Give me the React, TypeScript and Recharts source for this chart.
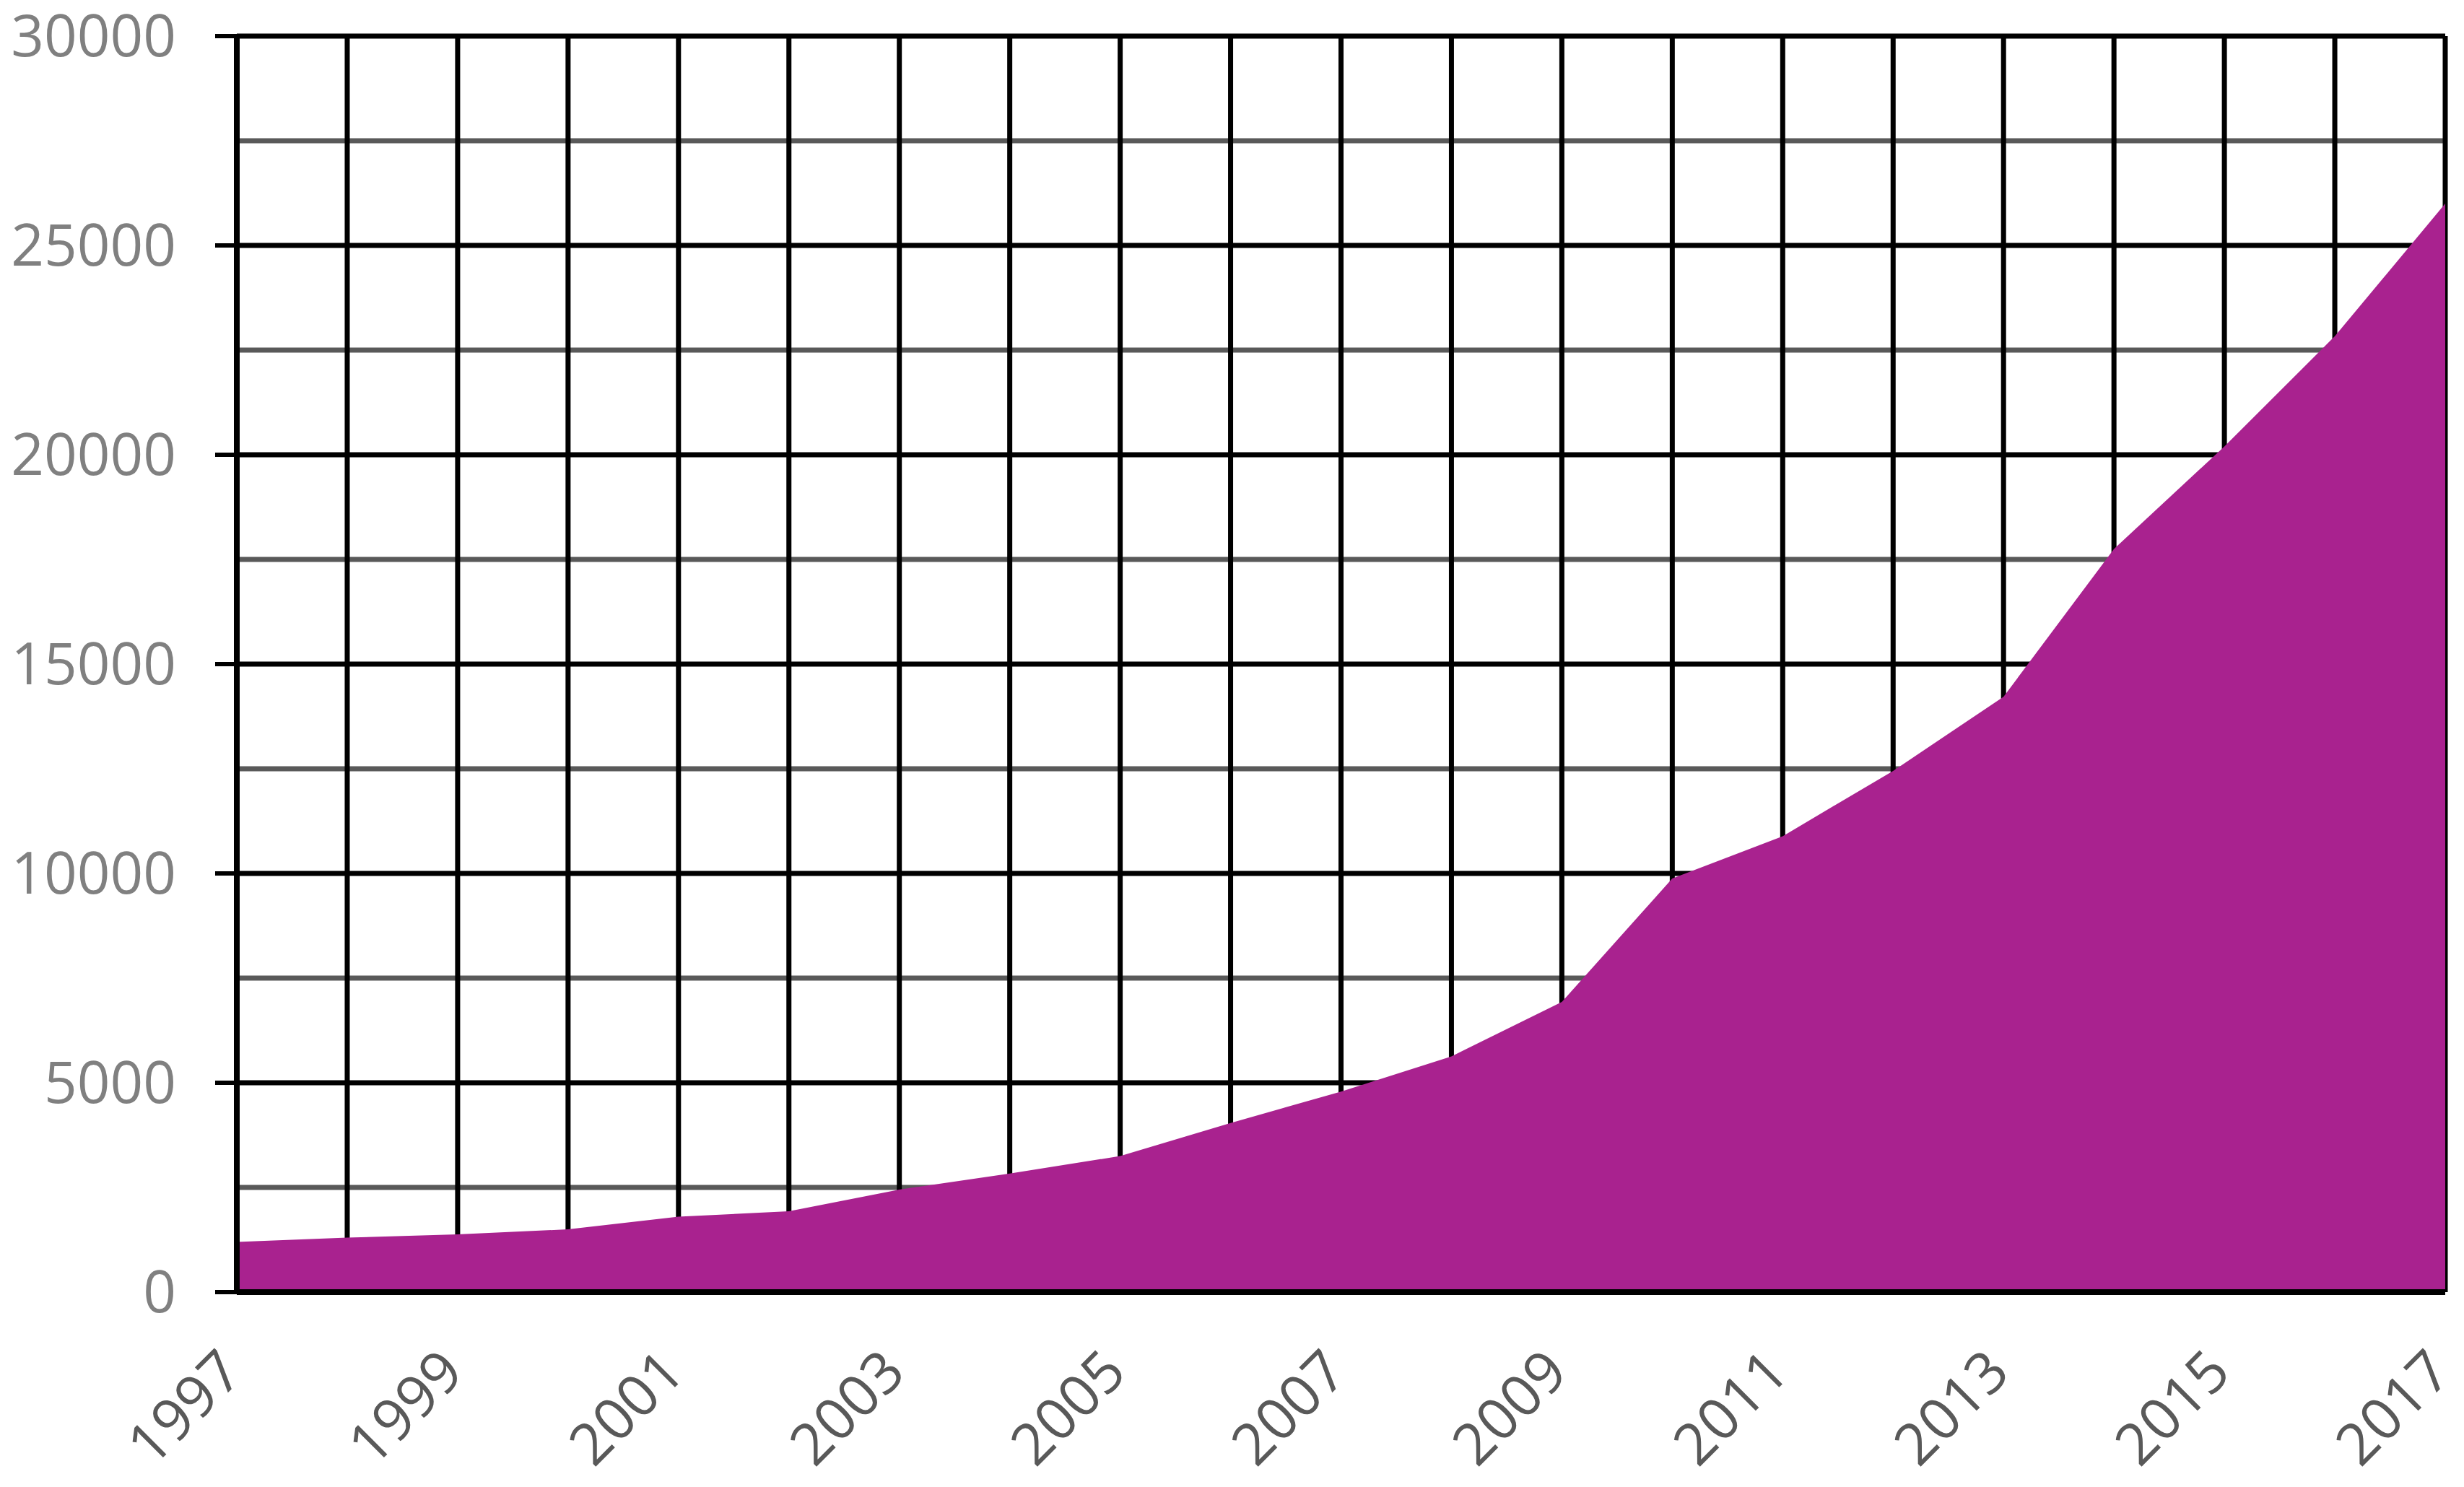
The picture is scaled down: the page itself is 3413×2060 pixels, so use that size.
import React from 'react';
import { AreaChart, Area, XAxis, YAxis, CartesianGrid } from 'recharts';

const years = [
  '1997', '1998', '1999', '2000', '2001', '2002', '2003', '2004', '2005', '2006', '2007',
  '2008', '2009', '2010', '2011', '2012', '2013', '2014', '2015', '2016', '2017',
];
const values = [
  1200, 1300, 1380, 1500, 1800, 1930, 2450, 2830, 3250, 4040, 4790,
  5630, 6930, 9880, 10890, 12450, 14220, 17750, 20200, 22830, 26000,
];
const majorTicks = [0, 5000, 10000, 15000, 20000, 25000, 30000];
const minorTicks = [2500, 7500, 12500, 17500, 22500, 27500];
const labeledYears = ['1997', '1999', '2001', '2003', '2005', '2007', '2009', '2011', '2013', '2015', '2017'];

const data = years.map((y, i) => ({ year: y, value: values[i] }));

const FONT = '"Open Sans", "Liberation Sans", sans-serif';

const XTick = (props: any) => {
  const { x, y, payload } = props;
  const label = String(payload.value);
  if (!labeledYears.includes(label)) return null;
  const ax = x + 12;
  const ay = y;
  return (
    <text
      x={ax}
      y={ay}
      transform={`rotate(-45, ${ax}, ${ay})`}
      textAnchor="end"
      fill="#595959"
      fontSize={80}
      fontFamily={FONT}
    >
      {label}
    </text>
  );
};

export default function App() {
  return (
    <div style={{ position: 'absolute', left: 0, top: 0, width: 3413, height: 2060, background: '#fff' }}>
      <AreaChart
        width={3413}
        height={2060}
        data={data}
        margin={{ top: 50, right: 26, left: 0, bottom: 0 }}
      >
        <CartesianGrid
          horizontalValues={minorTicks}
          vertical={false}
          stroke="#595959"
          strokeWidth={7}
        />
        <CartesianGrid vertical={false} stroke="#000" strokeWidth={7} />
        <CartesianGrid horizontal={false} stroke="#000" strokeWidth={7} />
        <Area
          type="linear"
          dataKey="value"
          fill="#A9228F"
          fillOpacity={1}
          stroke="none"
          isAnimationActive={false}
        />
        <XAxis
          dataKey="year"
          interval={0}
          height={270}
          tickLine={false}
          tickSize={6}
          tickMargin={109}
          axisLine={{ stroke: '#000', strokeWidth: 8 }}
          tick={<XTick />}
        />
        <YAxis
          domain={[0, 30000]}
          ticks={majorTicks}
          width={328}
          tickSize={30}
          tickMargin={54}
          tickLine={{ stroke: '#000', strokeWidth: 6 }}
          axisLine={{ stroke: '#000', strokeWidth: 8 }}
          tick={{ fill: '#808080', fontSize: 80, fontFamily: FONT }}
          interval={0}
        />
      </AreaChart>
    </div>
  );
}
